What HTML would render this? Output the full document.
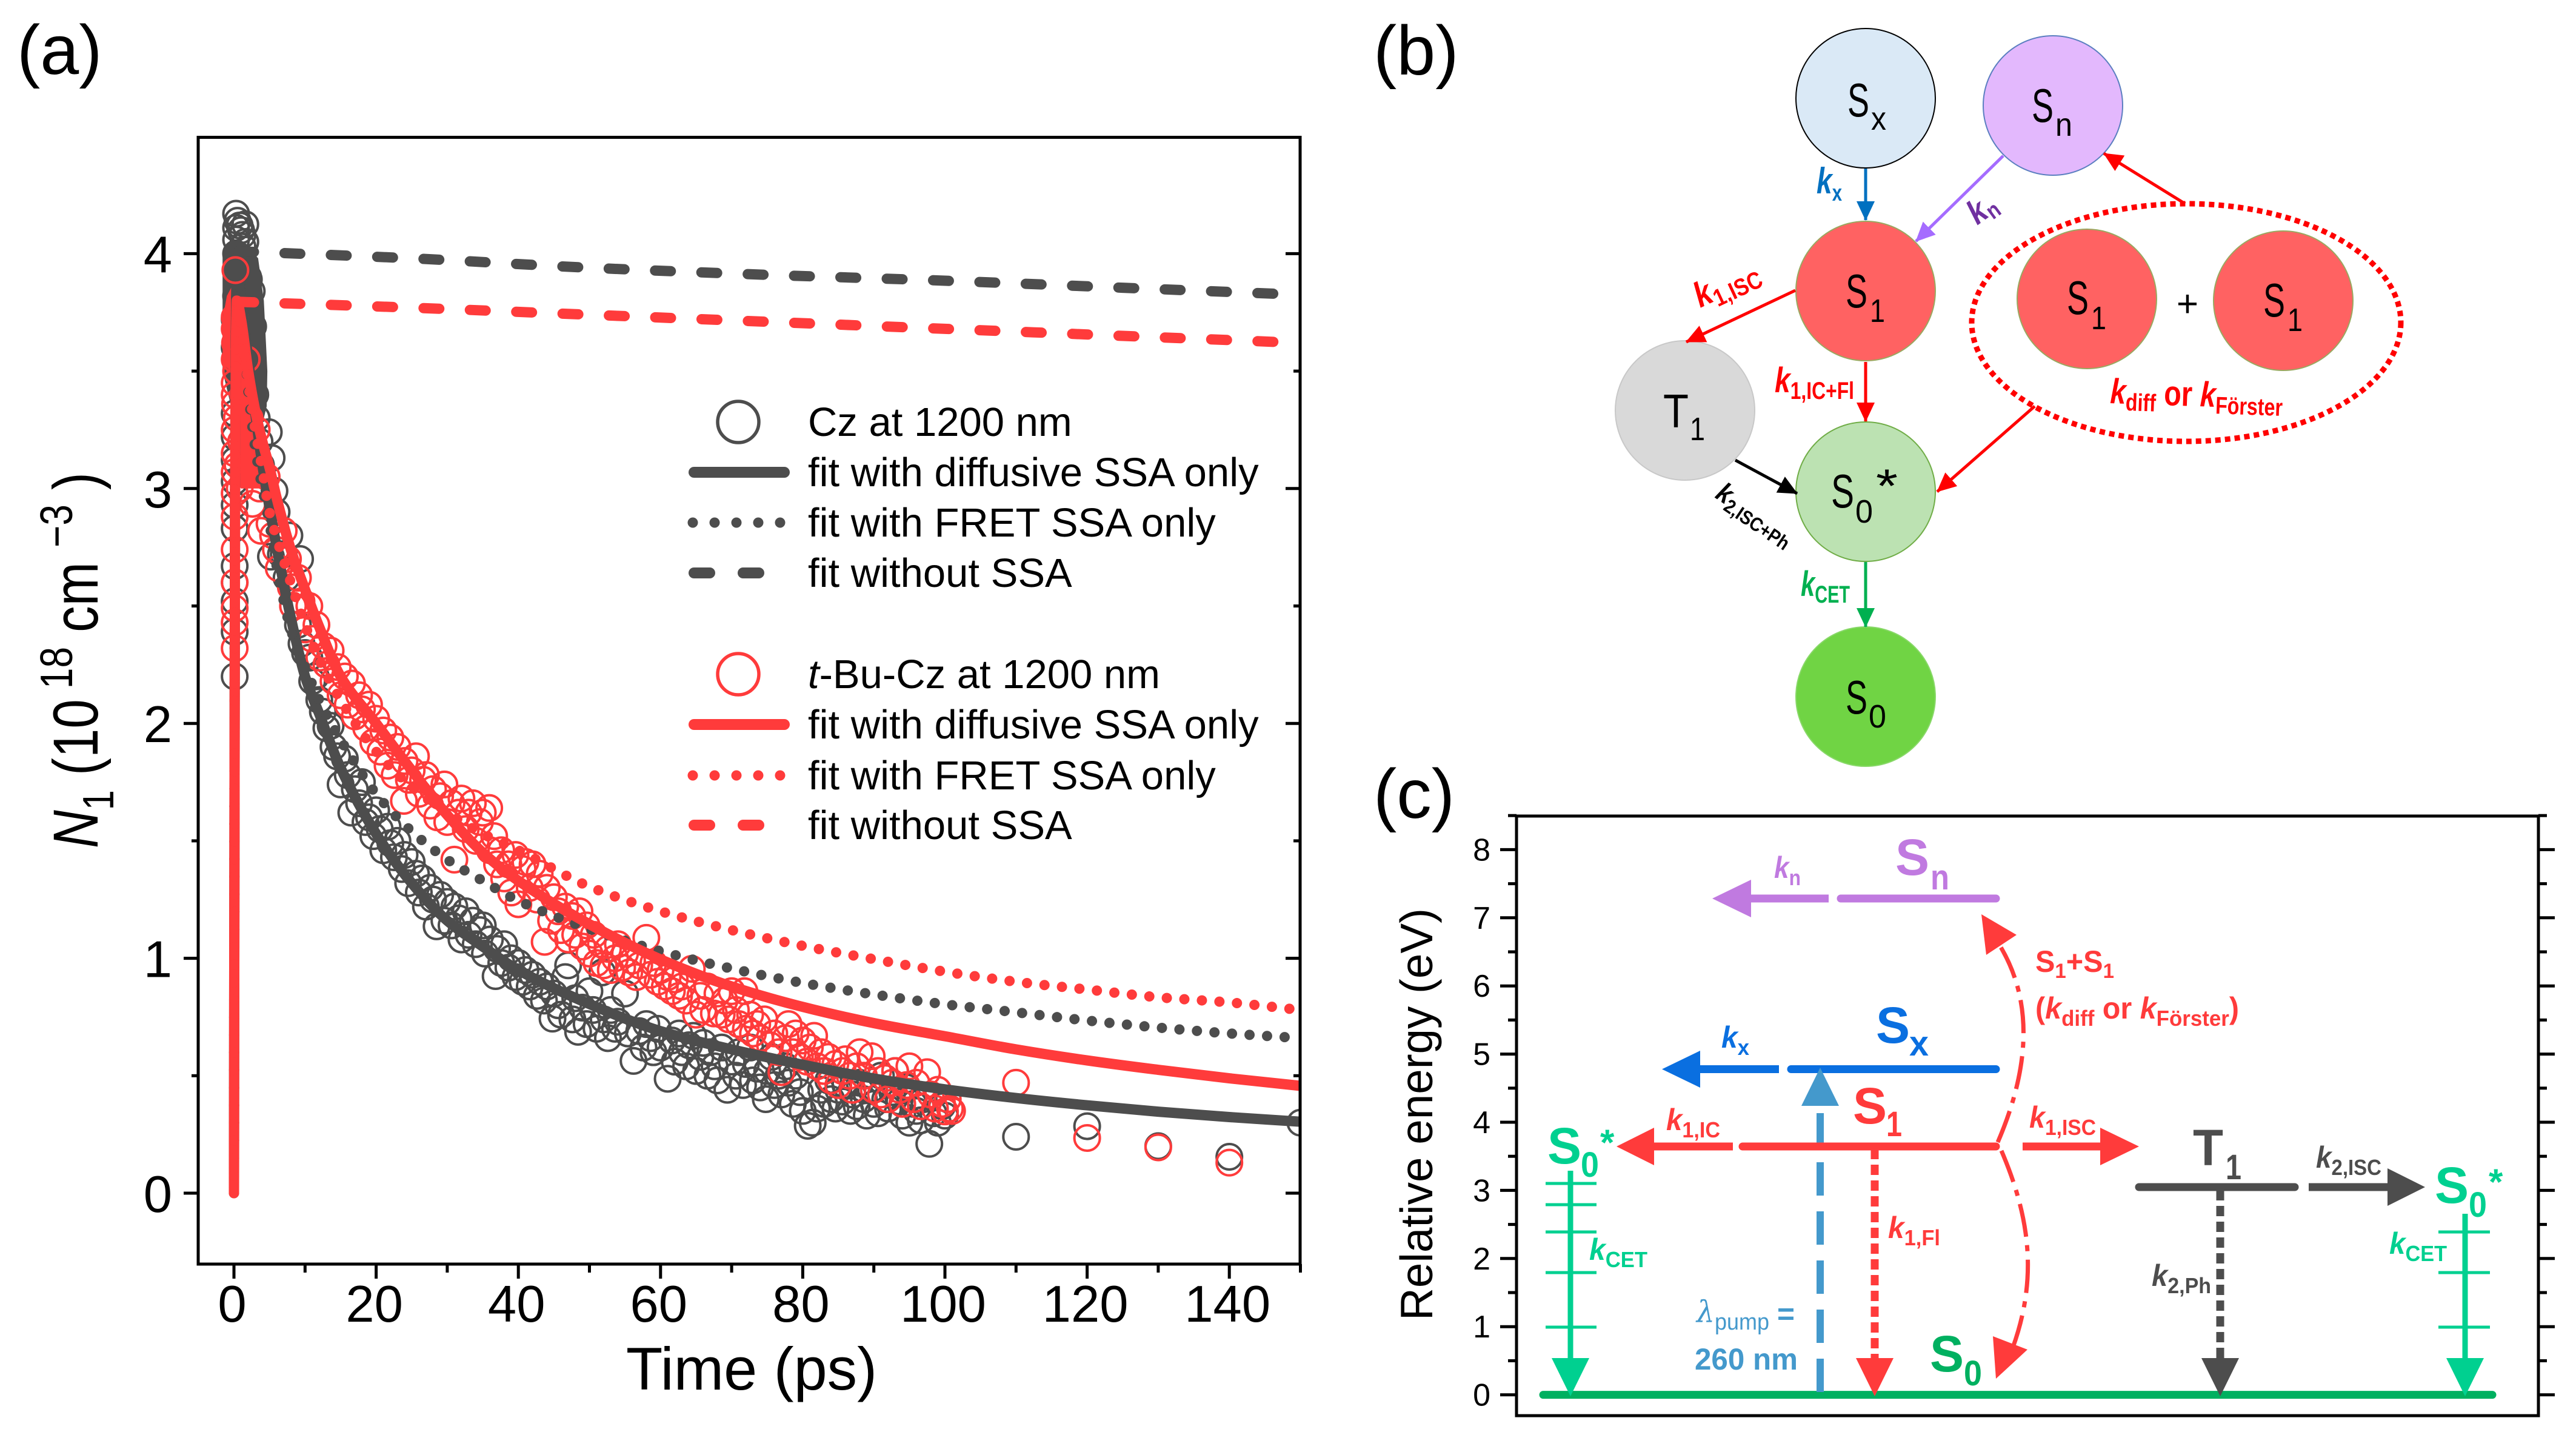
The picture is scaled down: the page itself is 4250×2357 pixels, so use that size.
<!DOCTYPE html>
<html lang="en">
<head>
<meta charset="utf-8">
<title>Singlet exciton dynamics figure</title>
<style>
html,body{margin:0;padding:0;background:#fff}
svg{display:block}
text{font-family:"Liberation Sans",sans-serif}
</style>
</head>
<body>
<svg id="figure" xmlns="http://www.w3.org/2000/svg" width="4250" height="2357" viewBox="0 0 4250 2357">
<defs>
<clipPath id="plot-clip"><rect x="327" y="226" width="1818" height="1859"/></clipPath>
<marker id="h-blue" markerUnits="userSpaceOnUse" markerWidth="32" markerHeight="30" refX="31" refY="15" orient="auto"><path d="M0,0L32,15L0,30z" fill="#0070c0"/></marker>
<marker id="h-purple" markerUnits="userSpaceOnUse" markerWidth="32" markerHeight="30" refX="31" refY="15" orient="auto"><path d="M0,0L32,15L0,30z" fill="#a56cff"/></marker>
<marker id="h-red" markerUnits="userSpaceOnUse" markerWidth="32" markerHeight="30" refX="31" refY="15" orient="auto"><path d="M0,0L32,15L0,30z" fill="#f00"/></marker>
<marker id="h-black" markerUnits="userSpaceOnUse" markerWidth="32" markerHeight="30" refX="31" refY="15" orient="auto"><path d="M0,0L32,15L0,30z" fill="#000"/></marker>
<marker id="h-green" markerUnits="userSpaceOnUse" markerWidth="32" markerHeight="30" refX="31" refY="15" orient="auto"><path d="M0,0L32,15L0,30z" fill="#00b050"/></marker>
</defs>
<rect x="0" y="0" width="4250" height="2357" fill="#fff"/>

<text x="28" y="122" font-size="115">(a)</text>
<text x="2266" y="123" font-size="115">(b)</text>
<text x="2266" y="1349" font-size="115">(c)</text>

<!-- PANEL A -->
<g id="panel-a">
  <g id="a-ticks"></g>
  <g id="a-marks" clip-path="url(#plot-clip)"></g>
  <rect x="327" y="226.500" width="1818" height="1858.500" fill="none" stroke="#000" stroke-width="5"/>
  <text x="1240" y="2292" font-size="99" text-anchor="middle">Time (ps)</text>
  <text transform="translate(161 1399) rotate(-90)" x="0" y="0" font-size="105" textLength="620" lengthAdjust="spacingAndGlyphs"><tspan font-style="italic">N</tspan><tspan font-size="72" dy="26">1</tspan><tspan dy="-26"> (10</tspan><tspan font-size="75" dy="-42"> 18</tspan><tspan dy="42"> cm </tspan><tspan font-size="75" dy="-42">−3</tspan><tspan dy="42"> )</tspan></text>

  <g font-size="67">
    <circle cx="1218" cy="696" r="34" fill="none" stroke="#4d4d4d" stroke-width="5.500"/>
    <text x="1333" y="719">Cz at 1200 nm</text>
    <line x1="1145" y1="779" x2="1294" y2="779" stroke="#4d4d4d" stroke-width="18" stroke-linecap="round"/>
    <text x="1333" y="802">fit with diffusive SSA only</text>
    <line x1="1143" y1="862" x2="1292" y2="862" stroke="#4d4d4d" stroke-width="17" stroke-linecap="round" stroke-dasharray="0 36"/>
    <text x="1333" y="885">fit with FRET SSA only</text>
    <line x1="1145" y1="945" x2="1252" y2="945" stroke="#4d4d4d" stroke-width="18" stroke-linecap="round" stroke-dasharray="26 55"/>
    <text x="1333" y="968">fit without SSA</text>

    <circle cx="1218" cy="1112" r="34" fill="none" stroke="#ff3b3b" stroke-width="5.500"/>
    <text x="1333" y="1135"><tspan font-style="italic">t</tspan>-Bu-Cz at 1200 nm</text>
    <line x1="1145" y1="1195" x2="1294" y2="1195" stroke="#ff3b3b" stroke-width="18" stroke-linecap="round"/>
    <text x="1333" y="1218">fit with diffusive SSA only</text>
    <line x1="1143" y1="1279" x2="1292" y2="1279" stroke="#ff3b3b" stroke-width="17" stroke-linecap="round" stroke-dasharray="0 36"/>
    <text x="1333" y="1302">fit with FRET SSA only</text>
    <line x1="1145" y1="1361" x2="1252" y2="1361" stroke="#ff3b3b" stroke-width="18" stroke-linecap="round" stroke-dasharray="26 55"/>
    <text x="1333" y="1384">fit without SSA</text>
  </g>
</g>

<!-- PANEL B -->
<g id="panel-b">
  <circle cx="3078" cy="162" r="115" fill="#dae9f6" stroke="#000" stroke-width="2"/>
  <circle cx="3387" cy="174" r="115" fill="#e3b8fd" stroke="#5b7fc0" stroke-width="2"/>
  <circle cx="3078" cy="480" r="115" fill="#ff6262" stroke="#9aa860" stroke-width="2"/>
  <circle cx="3443" cy="493" r="115" fill="#ff6262" stroke="#9aa860" stroke-width="2"/>
  <circle cx="3767" cy="496" r="115" fill="#ff6262" stroke="#9aa860" stroke-width="2"/>
  <circle cx="2780" cy="677" r="115" fill="#d9d9d9" stroke="#c8c8c8" stroke-width="2"/>
  <circle cx="3078" cy="811" r="115" fill="#bce2b2" stroke="#70ad47" stroke-width="2"/>
  <circle cx="3078" cy="1149" r="115" fill="#70d444" stroke="#88d868" stroke-width="2"/>
  <ellipse cx="3607" cy="532" rx="354" ry="196" fill="none" stroke="#f00" stroke-width="9" stroke-dasharray="9 7"/>

  <line x1="3078" y1="278" x2="3078" y2="363" stroke="#0070c0" stroke-width="5" marker-end="url(#h-blue)"/>
  <line x1="3305" y1="257" x2="3161" y2="398" stroke="#a56cff" stroke-width="5" marker-end="url(#h-purple)"/>
  <line x1="3605" y1="336" x2="3471" y2="253" stroke="#f00" stroke-width="5" marker-end="url(#h-red)"/>
  <line x1="2962" y1="479" x2="2782" y2="564" stroke="#f00" stroke-width="5" marker-end="url(#h-red)"/>
  <line x1="3078" y1="597" x2="3078" y2="695" stroke="#f00" stroke-width="5" marker-end="url(#h-red)"/>
  <line x1="2863" y1="759" x2="2965" y2="814" stroke="#000" stroke-width="5" marker-end="url(#h-black)"/>
  <line x1="3357" y1="670" x2="3196" y2="811" stroke="#f00" stroke-width="5" marker-end="url(#h-red)"/>
  <line x1="3078" y1="927" x2="3078" y2="1034" stroke="#00b050" stroke-width="5" marker-end="url(#h-green)"/>

  <g fill="#000">
    <text x="3048" y="192" font-size="78" textLength="36" lengthAdjust="spacingAndGlyphs">S</text>
    <text x="3087" y="214" font-size="54" textLength="25" lengthAdjust="spacingAndGlyphs">x</text>
    <text x="3352" y="201" font-size="78" textLength="36" lengthAdjust="spacingAndGlyphs">S</text>
    <text x="3391" y="224" font-size="54" textLength="28" lengthAdjust="spacingAndGlyphs">n</text>
    <text x="3045" y="507" font-size="78" textLength="36" lengthAdjust="spacingAndGlyphs">S</text>
    <text x="3085" y="531" font-size="54" textLength="25" lengthAdjust="spacingAndGlyphs">1</text>
    <text x="3410" y="518" font-size="78" textLength="36" lengthAdjust="spacingAndGlyphs">S</text>
    <text x="3450" y="543" font-size="54" textLength="25" lengthAdjust="spacingAndGlyphs">1</text>
    <text x="3734" y="522" font-size="78" textLength="36" lengthAdjust="spacingAndGlyphs">S</text>
    <text x="3774" y="546" font-size="54" textLength="25" lengthAdjust="spacingAndGlyphs">1</text>
    <text x="2744" y="705" font-size="78" textLength="42" lengthAdjust="spacingAndGlyphs">T</text>
    <text x="2788" y="726" font-size="54" textLength="25" lengthAdjust="spacingAndGlyphs">1</text>
    <text x="3021" y="837" font-size="78" textLength="38" lengthAdjust="spacingAndGlyphs">S</text>
    <text x="3061" y="862" font-size="54" textLength="29" lengthAdjust="spacingAndGlyphs">0</text>
    <text x="3095" y="828" font-size="78" textLength="36" lengthAdjust="spacingAndGlyphs">*</text>
    <text x="3045" y="1177" font-size="78" textLength="36" lengthAdjust="spacingAndGlyphs">S</text>
    <text x="3083" y="1200" font-size="54" textLength="29" lengthAdjust="spacingAndGlyphs">0</text>
    <text x="3609" y="522" font-size="62" text-anchor="middle">+</text>
  </g>
  <g font-weight="bold">
    <text x="2997" y="319" font-size="60" fill="#0070c0" textLength="42" lengthAdjust="spacingAndGlyphs"><tspan font-style="italic">k</tspan><tspan font-size="38" dy="12">x</tspan></text>
    <text transform="translate(3262 372) rotate(-36)" font-size="56" fill="#7030a0" textLength="46" lengthAdjust="spacingAndGlyphs"><tspan font-style="italic">k</tspan><tspan font-size="38" dy="8">n</tspan></text>
    <text transform="translate(2805 508) rotate(-25)" font-size="58" fill="#f00" textLength="112" lengthAdjust="spacingAndGlyphs"><tspan font-style="italic">k</tspan><tspan font-size="40" dy="11">1,ISC</tspan></text>
    <text x="2928" y="647" font-size="58" fill="#f00" textLength="131" lengthAdjust="spacingAndGlyphs"><tspan font-style="italic">k</tspan><tspan font-size="40" dy="11">1,IC+Fl</tspan></text>
    <text transform="translate(2828 820) rotate(34)" font-size="46" fill="#000" textLength="145" lengthAdjust="spacingAndGlyphs"><tspan font-style="italic">k</tspan><tspan font-size="32" dy="9">2,ISC+Ph</tspan></text>
    <text x="2971" y="983" font-size="58" fill="#00b050" textLength="81" lengthAdjust="spacingAndGlyphs"><tspan font-style="italic">k</tspan><tspan font-size="40" dy="11">CET</tspan></text>
    <text transform="translate(3481 665) rotate(2)" font-size="58" fill="#f00" textLength="285" lengthAdjust="spacingAndGlyphs"><tspan font-style="italic">k</tspan><tspan font-size="40" dy="11">diff</tspan><tspan dy="-11"> or </tspan><tspan font-style="italic">k</tspan><tspan font-size="40" dy="11">Förster</tspan></text>
  </g>
</g>

<!-- PANEL C -->
<g id="panel-c">
  <g id="c-ticks"></g>
  <rect x="2502" y="1346" width="1686" height="989" fill="none" stroke="#000" stroke-width="5"/>
  <text transform="translate(2363 2178) rotate(-90)" font-size="75" textLength="680" lengthAdjust="spacingAndGlyphs">Relative energy (eV)</text>

  <line x1="2546" y1="2300.600" x2="4112" y2="2300.600" stroke="#00b060" stroke-width="13" stroke-linecap="round"/>

  <line x1="3003" y1="2296" x2="3003" y2="1826" stroke="#4499cc" stroke-width="12" stroke-dasharray="55 26"/>

  <line x1="3037" y1="1482" x2="3293" y2="1482" stroke="#c07ae0" stroke-width="13" stroke-linecap="round"/>
  <line x1="3017" y1="1482" x2="2885" y2="1482" stroke="#c07ae0" stroke-width="13"/>
  <polygon points="2825,1482 2889,1451 2889,1513" fill="#c07ae0"/>

  <line x1="2955" y1="1763.500" x2="3293" y2="1763.500" stroke="#0a6fe0" stroke-width="13" stroke-linecap="round"/>
  <line x1="2935" y1="1763.500" x2="2800" y2="1763.500" stroke="#0a6fe0" stroke-width="13"/>
  <polygon points="2742,1763.500 2805,1733 2805,1794" fill="#0a6fe0"/>

  <polygon points="3003,1761 2972,1824 3034,1824" fill="#4499cc"/>

  <line x1="2875" y1="1891" x2="3293" y2="1891" stroke="#ff3b3b" stroke-width="13" stroke-linecap="round"/>
  <line x1="2859" y1="1891" x2="2725" y2="1891" stroke="#ff3b3b" stroke-width="13"/>
  <polygon points="2667,1891 2729,1860 2729,1922" fill="#ff3b3b"/>
  <line x1="3337" y1="1891" x2="3470" y2="1891" stroke="#ff3b3b" stroke-width="13"/>
  <polygon points="3529,1891 3465,1860 3465,1922" fill="#ff3b3b"/>

  <line x1="3529" y1="1958" x2="3786" y2="1958" stroke="#4d4d4d" stroke-width="13" stroke-linecap="round"/>
  <line x1="3809" y1="1958" x2="3945" y2="1958" stroke="#4d4d4d" stroke-width="13"/>
  <polygon points="4001,1958 3939,1927 3939,1989" fill="#4d4d4d"/>

  <line x1="3093" y1="1895" x2="3093" y2="2244" stroke="#ff3b3b" stroke-width="13" stroke-dasharray="17 9"/>
  <polygon points="3093,2303 3062,2240 3124,2240" fill="#ff3b3b"/>
  <line x1="3663" y1="1963" x2="3663" y2="2244" stroke="#4d4d4d" stroke-width="13" stroke-dasharray="17 9"/>
  <polygon points="3663,2303 3632,2240 3694,2240" fill="#4d4d4d"/>

  <path d="M3296,1884 C3345,1770 3362,1650 3290,1545" fill="none" stroke="#ff3b3b" stroke-width="7" stroke-dasharray="55 14 10 14"/>
  <polygon points="3269,1508 3327,1542 3277,1575" fill="#ff3b3b"/>
  <path d="M3302,1898 C3350,2010 3362,2110 3320,2225" fill="none" stroke="#ff3b3b" stroke-width="7" stroke-dasharray="55 14 10 14"/>
  <polygon points="3293,2274 3288,2204 3345,2226" fill="#ff3b3b"/>

  <g stroke="#00d090">
    <line x1="2591" y1="1931" x2="2591" y2="2244" stroke-width="9"/>
    <line x1="2550" y1="1952" x2="2634" y2="1952" stroke-width="5"/>
    <line x1="2550" y1="1987" x2="2634" y2="1987" stroke-width="5"/>
    <line x1="2550" y1="2032" x2="2634" y2="2032" stroke-width="5"/>
    <line x1="2550" y1="2099" x2="2634" y2="2099" stroke-width="5"/>
    <line x1="2550" y1="2189" x2="2634" y2="2189" stroke-width="5"/>
    <polygon points="2591,2303 2560,2240 2622,2240" fill="#00d090" stroke="none"/>
  </g>
  <g stroke="#00d090">
    <line x1="4067" y1="2002" x2="4067" y2="2244" stroke-width="9"/>
    <line x1="4023" y1="2032" x2="4108" y2="2032" stroke-width="5"/>
    <line x1="4023" y1="2099" x2="4108" y2="2099" stroke-width="5"/>
    <line x1="4023" y1="2189" x2="4108" y2="2189" stroke-width="5"/>
    <polygon points="4067,2303 4036,2240 4098,2240" fill="#00d090" stroke="none"/>
  </g>

  <g font-weight="bold" font-size="84">
    <text x="3127" y="1443" fill="#c07ae0">S</text>
    <text x="3185" y="1467" font-size="58" fill="#c07ae0" textLength="31" lengthAdjust="spacingAndGlyphs">n</text>
    <text x="3095" y="1720" fill="#0a6fe0">S</text>
    <text x="3150" y="1741" font-size="58" fill="#0a6fe0" textLength="32" lengthAdjust="spacingAndGlyphs">x</text>
    <text x="3057" y="1853" fill="#ff3b3b">S</text>
    <text x="3112" y="1874" font-size="58" fill="#ff3b3b" textLength="26" lengthAdjust="spacingAndGlyphs">1</text>
    <text x="2553" y="1919" fill="#00d090">S</text>
    <text x="2608" y="1941" font-size="58" fill="#00d090" textLength="30" lengthAdjust="spacingAndGlyphs">0</text>
    <text x="2640" y="1905" font-size="60" fill="#00d090">*</text>
    <text x="3618" y="1922" fill="#4d4d4d" textLength="50" lengthAdjust="spacingAndGlyphs">T</text>
    <text x="3672" y="1945" font-size="58" fill="#4d4d4d" textLength="26" lengthAdjust="spacingAndGlyphs">1</text>
    <text x="4017" y="1984" fill="#00d090">S</text>
    <text x="4073" y="2007" font-size="58" fill="#00d090" textLength="30" lengthAdjust="spacingAndGlyphs">0</text>
    <text x="4106" y="1970" font-size="60" fill="#00d090">*</text>
    <text x="3184" y="2262" fill="#00b060">S</text>
    <text x="3240" y="2285" font-size="58" fill="#00b060" textLength="30" lengthAdjust="spacingAndGlyphs">0</text>
  </g>
  <g font-weight="bold" font-size="50">
    <text x="2927" y="1448" fill="#c07ae0" textLength="44" lengthAdjust="spacingAndGlyphs"><tspan font-style="italic">k</tspan><tspan font-size="36" dy="12">n</tspan></text>
    <text x="2840" y="1728" fill="#0a6fe0" textLength="46" lengthAdjust="spacingAndGlyphs"><tspan font-style="italic">k</tspan><tspan font-size="36" dy="12">x</tspan></text>
    <text x="2749" y="1864" fill="#ff3b3b" textLength="89" lengthAdjust="spacingAndGlyphs"><tspan font-style="italic">k</tspan><tspan font-size="36" dy="12">1,IC</tspan></text>
    <text x="3348" y="1860" fill="#ff3b3b" textLength="110" lengthAdjust="spacingAndGlyphs"><tspan font-style="italic">k</tspan><tspan font-size="36" dy="12">1,ISC</tspan></text>
    <text x="3821" y="1926" fill="#4d4d4d" textLength="108" lengthAdjust="spacingAndGlyphs"><tspan font-style="italic">k</tspan><tspan font-size="36" dy="12">2,ISC</tspan></text>
    <text x="2622" y="2078" fill="#00d090" textLength="96" lengthAdjust="spacingAndGlyphs"><tspan font-style="italic">k</tspan><tspan font-size="36" dy="12">CET</tspan></text>
    <text x="3942" y="2068" fill="#00d090" textLength="95" lengthAdjust="spacingAndGlyphs"><tspan font-style="italic">k</tspan><tspan font-size="36" dy="12">CET</tspan></text>
    <text x="3115" y="2042" fill="#ff3b3b" textLength="86" lengthAdjust="spacingAndGlyphs"><tspan font-style="italic">k</tspan><tspan font-size="36" dy="12">1,Fl</tspan></text>
    <text x="3550" y="2121" fill="#4d4d4d" textLength="98" lengthAdjust="spacingAndGlyphs"><tspan font-style="italic">k</tspan><tspan font-size="36" dy="12">2,Ph</tspan></text>
    <text x="2799" y="2181" fill="#4499cc" font-weight="normal" textLength="120" lengthAdjust="spacingAndGlyphs"><tspan font-family="'DejaVu Serif',serif" font-style="italic">λ</tspan><tspan font-size="38" dy="12">pump</tspan></text>
    <text x="2932" y="2184" fill="#4499cc" textLength="29" lengthAdjust="spacingAndGlyphs">=</text>
    <text x="2796" y="2259" fill="#4499cc" textLength="170" lengthAdjust="spacingAndGlyphs">260 nm</text>
    <text x="3358" y="1603" fill="#ff3b3b" textLength="130" lengthAdjust="spacingAndGlyphs">S<tspan font-size="34" dy="10">1</tspan><tspan dy="-10">+S</tspan><tspan font-size="34" dy="10">1</tspan></text>
    <text x="3358" y="1680" fill="#ff3b3b" textLength="336" lengthAdjust="spacingAndGlyphs">(<tspan font-style="italic">k</tspan><tspan font-size="36" dy="12">diff</tspan><tspan dy="-12"> or </tspan><tspan font-style="italic">k</tspan><tspan font-size="36" dy="12">Förster</tspan><tspan dy="-12">)</tspan></text>
  </g>
</g>

<script>
// ---- Panel (a) axis categories ----
const xMajorTicks = [0, 20, 40, 60, 80, 100, 120, 140];
const xMinorTicks = [10, 30, 50, 70, 90, 110, 130, 150];
const yMajorTicks = [0, 1, 2, 3, 4];
const yMinorTicks = [0.5, 1.5, 2.5, 3.5];

// ---- Panel (a) fit curves ----
const fitTimes = [0,0.15,0.4,1,2,3,4,5,6,8,10,12,15,20,25,30,35,40,50,60,70,80,90,100,110,120,130,140,150];
const czDiffusive = [0,3.0,3.95,3.82,3.55,3.32,3.1,2.92,2.75,2.45,2.2,2.04,1.81,1.53,1.32,1.16,1.05,0.95,0.805,0.69,0.612,0.547,0.488,0.442,0.405,0.374,0.347,0.324,0.304];
const czFret = [0,3.0,3.95,3.8,3.42,3.17,3.0,2.85,2.67,2.4,2.24,2.1,1.93,1.7,1.54,1.42,1.33,1.245,1.125,1.03,0.956,0.895,0.846,0.804,0.77,0.735,0.705,0.68,0.66];
const tbuDiffusive = [0,3.0,3.8,3.72,3.5,3.33,3.2,3.09,2.96,2.74,2.57,2.41,2.2,2.0,1.8,1.61,1.45,1.33,1.145,0.995,0.88,0.793,0.724,0.668,0.612,0.565,0.525,0.489,0.457];
const tbuFret = [0,3.0,3.8,3.7,3.45,3.25,3.08,2.9,2.79,2.6,2.42,2.27,2.1,1.88,1.73,1.62,1.53,1.46,1.305,1.2,1.12,1.053,0.996,0.943,0.9,0.867,0.834,0.812,0.78];
const noSsaTimes = [0.6,25,50,75,100,125,150];
const czNoSsa = [4.01,3.98,3.94,3.91,3.885,3.855,3.825];
const tbuNoSsa = [3.795,3.77,3.74,3.71,3.68,3.65,3.62];

// ---- Panel (a) overplotted early-time regions (where markers merge into a solid mass) ----
const czMassTimes = [-1.6,-1.6,-0.5,1.5,3.4,4.2,4.7,4.6,4.2,0];
const czMassValues = [3.5,4.0,4.06,4.05,3.98,3.8,3.5,3.35,3.3,3.3];
const tbuMassTimes = [-1.6,-1.6,-1,-0.3,0,0.1,1.2,2,3,4,5,4,1,-0.4,-0.4];
const tbuMassValues = [3.53,3.72,3.82,3.86,3.8,3.66,3.66,3.5,3.3,3.15,3.02,3.0,3.0,3.05,3.5];

// ---- Panel (a) measured points ----
const czTimes = [
0.1,0.1,0.1,0.1,0.1,0.1,0.1,0.1,0.1,0.1,
0.1,0.1,0.1,0.3,0.3,0.3,0.3,0.3,0.3,0.5,
0.8,1,1.2,1.6,1.2,1.6,1,0.6,1.4,2,
2.1,1.7,1.2,0.8,0.5,1.5,2.5,2.7,2.2,2.6,
3,2.4,3.2,3.6,3,3.8,4.9,5.3,5.7,
5.2,6,6.6,7,7.4,7.8,9.3,9,9.5,10,
10.6,11,11.5,12,12.5,13,13.6,14,14.5,15,
15.6,16,16.5,17,17.6,18,18.5,19,19.6,20,
20.5,21,21.6,22,22.5,23,23.6,24,24.5,25,
25.6,26,26.5,27,27.6,28,28.5,29,29.6,30,
30.6,31,31.6,32,32.6,33,33.6,34,34.6,35,
35.3,36,36.8,37,37.6,38,38.6,39,39.6,40,
40.6,41,41.6,42,42.6,43,43.6,44,44.8,45,
45.6,46,46.6,47,47.6,48,48.4,49,49.6,50,
50.5,51,51.8,52,52.6,53,53.6,54,55,55.4,
56.2,57,57.6,58,58.6,59,59.6,60,61,61.6,
62,62.6,63,63.6,64,64.6,65,65.6,66,66.6,
67,67.6,68,68.6,69.4,70,70.6,71,71.6,72,
72.6,73,73.6,74,74.8,75,75.6,76,76.6,77,
77.6,78,78.6,79,79.6,80,80.7,81.4,82,82.6,
83,83.6,84,84.6,85,85.6,86,86.7,87,87.6,
88,88.6,89,89.6,90,90.6,91,91.6,92,92.6,
93,93.6,94,94.6,95,95.6,96,96.6,97,97.8,
98.4,99,99.6,100,110,120,130,140,150];
const czValues = [
2.2,2.39,2.52,2.6,2.67,2.83,2.93,3.03,3.12,3.22,
3.32,3.6,3.72,3.82,3.92,4.0,4.06,4.11,4.17,4.14,
4.12,4.1,4.08,4.125,4.03,4.05,3.98,3.9,3.95,3.9,
3.89,3.8,3.75,3.7,3.5,3.65,3.84,3.69,3.6,3.5,
3.4,3.35,3.3,3.2,3.15,3.1,3.24,3.13,2.99,
2.71,2.9,2.72,2.72,2.62,2.8,2.7,2.42,2.34,2.3,
2.28,2.18,2.2,2.1,2.05,1.98,1.99,1.9,1.86,1.74,
1.85,1.78,1.62,1.72,1.66,1.75,1.58,1.6,1.52,1.63,
1.55,1.46,1.56,1.49,1.43,1.5,1.38,1.44,1.32,1.41,
1.36,1.28,1.34,1.22,1.3,1.25,1.136,1.27,1.16,1.24,
1.14,1.22,1.17,1.08,1.2,1.1,1.16,1.06,1.12,1.14,
1.02,1.08,0.924,1.04,0.98,1.06,0.96,1.0,0.92,0.98,
0.9,0.95,0.88,0.93,0.84,0.9,0.82,0.88,0.743,0.85,
0.8,0.76,0.92,0.97,0.74,0.83,0.687,0.79,0.72,0.86,
0.78,0.7,0.94,0.74,0.66,0.78,0.7,0.73,0.85,0.68,
0.563,0.69,0.62,0.72,0.66,0.6,0.7,0.62,0.487,0.65,
0.56,0.68,0.6,0.54,0.63,0.67,0.52,0.58,0.64,0.5,
0.6,0.54,0.48,0.62,0.44,0.56,0.5,0.6,0.46,0.55,
0.62,0.48,0.53,0.45,0.4,0.52,0.58,0.46,0.5,0.42,
0.54,0.47,0.38,0.5,0.43,0.35,0.287,0.3,0.36,0.44,
0.38,0.48,0.4,0.36,0.44,0.39,0.46,0.35,0.42,0.37,
0.47,0.4,0.33,0.44,0.38,0.34,0.5,0.4,0.36,0.43,
0.52,0.39,0.33,0.45,0.3,0.38,0.35,0.31,0.4,0.21,
0.34,0.3,0.37,0.33,0.24,0.285,0.2,0.155,0.3];
const tbuTimes = [
0.1,0.1,0.1,0.1,0.1,0.1,0.1,0.1,0.1,0.1,
0.1,0.15,0.1,0.1,0.15,0.1,0.1,0.3,0.4,0.5,
0.8,1,1.3,1.6,1.8,2.2,2.5,2.6,3.2,3.6,3.8,4.6,
5,5.5,5.9,6.3,7,7.6,8,8.3,9,9.5,
10,10.6,11,11.6,12,12.6,13,13.6,14,14.6,
15,15.6,16,16.6,17,17.6,18,18.6,19,19.6,
20,20.6,21,21.6,22,22.6,23,23.9,24,24.6,
25,25.6,26,26.6,27,27.6,28,28.6,29,29.6,
30,30.6,31,31.6,32,32.6,33,33.6,34,34.6,
35,35.9,36,36.6,37,37.6,38,38.6,39,39.6,
40,40.6,41,41.6,42,42.6,43,43.7,44,44.6,
45,45.6,46,46.6,47,47.6,48,48.6,49,49.6,
50,50.6,51,51.6,52,52.6,53,53.6,54,54.6,
55,55.6,56,56.6,57,58,58.6,59,59.6,60,
60.6,61,61.6,62,62.6,63,63.6,64.4,65,65.6,
66,66.6,67.5,68,68.6,69,69.6,70,70.6,71,
71.8,72,72.6,73,73.6,74,74.6,75.4,76,76.6,
77,77.6,78,78.6,79,79.6,80,80.6,81,81.6,
82,82.6,83,83.6,84,84.6,85,85.6,86,86.6,
87,87.6,88,88.6,89.7,90,90.6,91,91.6,92,
92.6,93,93.6,94,94.6,95,95.6,96,96.6,97.5,
98,98.6,99,99.6,100,100.4,100.7,101,110,120,130,140];
const tbuValues = [
2.32,2.43,2.49,2.6,2.74,2.88,2.98,3.07,3.15,3.25,
3.4,3.36,3.45,3.55,3.62,3.68,3.73,3.5,3.3,3.1,
3.0,3.2,3.4,3.1,3.55,3.3,3.1,2.935,3.25,3.0,2.82,3.05,
2.85,2.8,2.74,2.66,2.82,2.7,2.58,2.5,2.62,2.52,
2.4,2.5,2.36,2.42,2.28,2.33,2.25,2.31,2.18,2.24,
2.12,2.2,2.08,2.17,2.03,2.12,2.06,1.98,2.08,1.92,
2.02,1.88,1.97,1.82,1.94,1.78,1.9,1.67,1.84,1.76,
1.8,1.86,1.7,1.76,1.78,1.65,1.72,1.6,1.69,1.74,
1.58,1.66,1.42,1.62,1.68,1.55,1.62,1.66,1.5,1.58,
1.62,1.64,1.46,1.52,1.4,1.46,1.34,1.4,1.28,1.44,
1.23,1.38,1.41,1.3,1.4,1.25,1.36,1.07,1.3,1.16,
1.26,1.2,1.12,1.22,1.08,1.18,1.1,1.2,1.05,1.14,
1.02,1.1,0.98,1.06,0.97,1.04,0.95,1.0,1.06,0.96,
1.02,0.94,0.99,0.92,0.97,1.087,0.93,0.98,0.9,0.95,
0.88,0.92,0.86,0.91,0.84,0.88,0.82,0.955,0.76,0.84,
0.78,0.88,0.765,0.85,0.76,0.82,0.74,0.86,0.78,0.72,
0.86,0.7,0.76,0.68,0.72,0.66,0.74,0.63,0.68,0.6,
0.515,0.66,0.72,0.6,0.68,0.58,0.65,0.56,0.62,0.67,
0.54,0.6,0.52,0.58,0.48,0.55,0.46,0.52,0.57,0.5,
0.44,0.54,0.6,0.5,0.583,0.44,0.52,0.42,0.49,0.4,
0.47,0.52,0.44,0.38,0.46,0.54,0.4,0.47,0.37,0.515,
0.42,0.36,0.44,0.38,0.348,0.4,0.36,0.35,0.47,0.235,0.195,0.13];
const tbuTopTimes = [0.2];
const tbuTopValues = [3.93];

// ---- Panel (c) axis ticks ----
const energyMajorTicks = [0, 1, 2, 3, 4, 5, 6, 7, 8];
const energyMinorTicks = [0.5, 1.5, 2.5, 3.5, 4.5, 5.5, 6.5, 7.5, 8.5];

const SVGNS = 'http://www.w3.org/2000/svg';
const xScale = function (t) { return 386 + 11.73 * t; };
const yScale = function (v) { return 1968 - 387.4 * v; };
const energyScale = function (e) { return 2300.6 - 112.4 * e; };

function make(parent, tag, attrs) {
  const el = document.createElementNS(SVGNS, tag);
  Object.keys(attrs).forEach(function (k) { el.setAttribute(k, attrs[k]); });
  parent.appendChild(el);
  return el;
}

// Monotone cubic path through the data values
function curvePath(ts, vs) {
  const xs = ts.map(xScale);
  const ys = vs.map(yScale);
  const n = xs.length;
  const h = [], s = [], m = new Array(n).fill(0);
  for (let i = 0; i < n - 1; i++) {
    h[i] = xs[i + 1] - xs[i];
    s[i] = (ys[i + 1] - ys[i]) / h[i];
  }
  m[0] = s[0];
  m[n - 1] = s[n - 2];
  for (let i = 1; i < n - 1; i++) {
    m[i] = s[i - 1] * s[i] <= 0 ? 0 : 2 * s[i - 1] * s[i] / (s[i - 1] + s[i]);
  }
  let d = 'M' + xs[0].toFixed(1) + ',' + ys[0].toFixed(1);
  for (let i = 0; i < n - 1; i++) {
    const c = h[i] / 3;
    d += 'C' + (xs[i] + c).toFixed(1) + ',' + (ys[i] + m[i] * c).toFixed(1) + ' ' +
         (xs[i + 1] - c).toFixed(1) + ',' + (ys[i + 1] - m[i + 1] * c).toFixed(1) + ' ' +
         xs[i + 1].toFixed(1) + ',' + ys[i + 1].toFixed(1);
  }
  return d;
}

function regionPath(ts, vs) {
  return 'M' + ts.map(function (t, i) {
    return xScale(t).toFixed(1) + ',' + yScale(vs[i]).toFixed(1);
  }).join('L') + 'Z';
}

const aTicks = document.getElementById('a-ticks');
const aMarks = document.getElementById('a-marks');
const cTicks = document.getElementById('c-ticks');

xMajorTicks.forEach(function (t) {
  const tick = make(aTicks, 'line', { x1: xScale(t), y1: 2085, x2: xScale(t), y2: 2109, stroke: '#000', 'stroke-width': 5 });
  
  
  const label = make(aTicks, 'text', { x: xScale(t) - 3, y: 2180, 'font-size': 85, 'text-anchor': 'middle' });
  label.textContent = String(t);
  
  
});
xMinorTicks.forEach(function (t) {
  const tick = make(aTicks, 'line', { x1: xScale(t), y1: 2085, x2: xScale(t), y2: 2099, stroke: '#000', 'stroke-width': 5 });
  
  
});
yMajorTicks.forEach(function (v) {
  const left = make(aTicks, 'line', { x1: 303, y1: yScale(v), x2: 327, y2: yScale(v), stroke: '#000', 'stroke-width': 5 });
  
  
  const right = make(aTicks, 'line', { x1: 2121, y1: yScale(v), x2: 2145, y2: yScale(v), stroke: '#000', 'stroke-width': 5 });
  
  
  const label = make(aTicks, 'text', { x: 284, y: yScale(v) + 31, 'font-size': 85, 'text-anchor': 'end' });
  label.textContent = String(v);
  
  
});
yMinorTicks.forEach(function (v) {
  const left = make(aTicks, 'line', { x1: 316, y1: yScale(v), x2: 327, y2: yScale(v), stroke: '#000', 'stroke-width': 5 });
  
  
  const right = make(aTicks, 'line', { x1: 2134, y1: yScale(v), x2: 2145, y2: yScale(v), stroke: '#000', 'stroke-width': 5 });
  
  
});

czTimes.forEach(function (t, i) {
  const pt = make(aMarks, 'circle', { cx: xScale(t), cy: yScale(czValues[i]), r: 21, fill: 'none', stroke: '#4d4d4d', 'stroke-width': 4 });
  
  
});
const czMass = make(aMarks, 'path', { d: regionPath(czMassTimes, czMassValues), fill: '#4d4d4d' });



tbuTimes.forEach(function (t, i) {
  const pt = make(aMarks, 'circle', { cx: xScale(t), cy: yScale(tbuValues[i]), r: 21, fill: 'none', stroke: '#ff3b3b', 'stroke-width': 4 });
  
  
});
const tbuMass = make(aMarks, 'path', { d: regionPath(tbuMassTimes, tbuMassValues), fill: '#ff3b3b' });



const czDiffusiveLine = make(aMarks, 'path', { d: curvePath(fitTimes, czDiffusive), fill: 'none', stroke: '#4d4d4d', 'stroke-width': 17 });


const czFretLine = make(aMarks, 'path', { d: curvePath(fitTimes, czFret), fill: 'none', stroke: '#4d4d4d', 'stroke-width': 17, 'stroke-linecap': 'round', 'stroke-dasharray': '0 29' });


const czNoSsaLine = make(aMarks, 'path', { d: curvePath(noSsaTimes, czNoSsa), fill: 'none', stroke: '#4d4d4d', 'stroke-width': 17, 'stroke-linecap': 'round', 'stroke-dasharray': '26 50.500' });



tbuTopTimes.forEach(function (t, i) {
  const pt = make(aMarks, 'circle', { cx: xScale(t), cy: yScale(tbuTopValues[i]), r: 21, fill: '#4d4d4d', stroke: '#ff3b3b', 'stroke-width': 4 });
  
  
});

const tbuDiffusiveLine = make(aMarks, 'path', { d: curvePath(fitTimes, tbuDiffusive), fill: 'none', stroke: '#ff3b3b', 'stroke-width': 17 });


const tbuFretLine = make(aMarks, 'path', { d: curvePath(fitTimes, tbuFret), fill: 'none', stroke: '#ff3b3b', 'stroke-width': 17, 'stroke-linecap': 'round', 'stroke-dasharray': '0 29' });


const tbuNoSsaLine = make(aMarks, 'path', { d: curvePath(noSsaTimes, tbuNoSsa), fill: 'none', stroke: '#ff3b3b', 'stroke-width': 17, 'stroke-linecap': 'round', 'stroke-dasharray': '26 50.500' });



energyMajorTicks.forEach(function (e) {
  const left = make(cTicks, 'line', { x1: 2475, y1: energyScale(e), x2: 2502, y2: energyScale(e), stroke: '#000', 'stroke-width': 5 });
  
  
  const right = make(cTicks, 'line', { x1: 4188, y1: energyScale(e), x2: 4215, y2: energyScale(e), stroke: '#000', 'stroke-width': 5 });
  
  
  const label = make(cTicks, 'text', { x: 2459, y: energyScale(e) + 18, 'font-size': 52, 'text-anchor': 'end' });
  label.textContent = String(e);
  
  
});
energyMinorTicks.forEach(function (e) {
  const left = make(cTicks, 'line', { x1: 2488, y1: energyScale(e), x2: 2502, y2: energyScale(e), stroke: '#000', 'stroke-width': 5 });
  
  
  const right = make(cTicks, 'line', { x1: 4188, y1: energyScale(e), x2: 4202, y2: energyScale(e), stroke: '#000', 'stroke-width': 5 });
  
  
});
</script>
</svg>
</body>
</html>
